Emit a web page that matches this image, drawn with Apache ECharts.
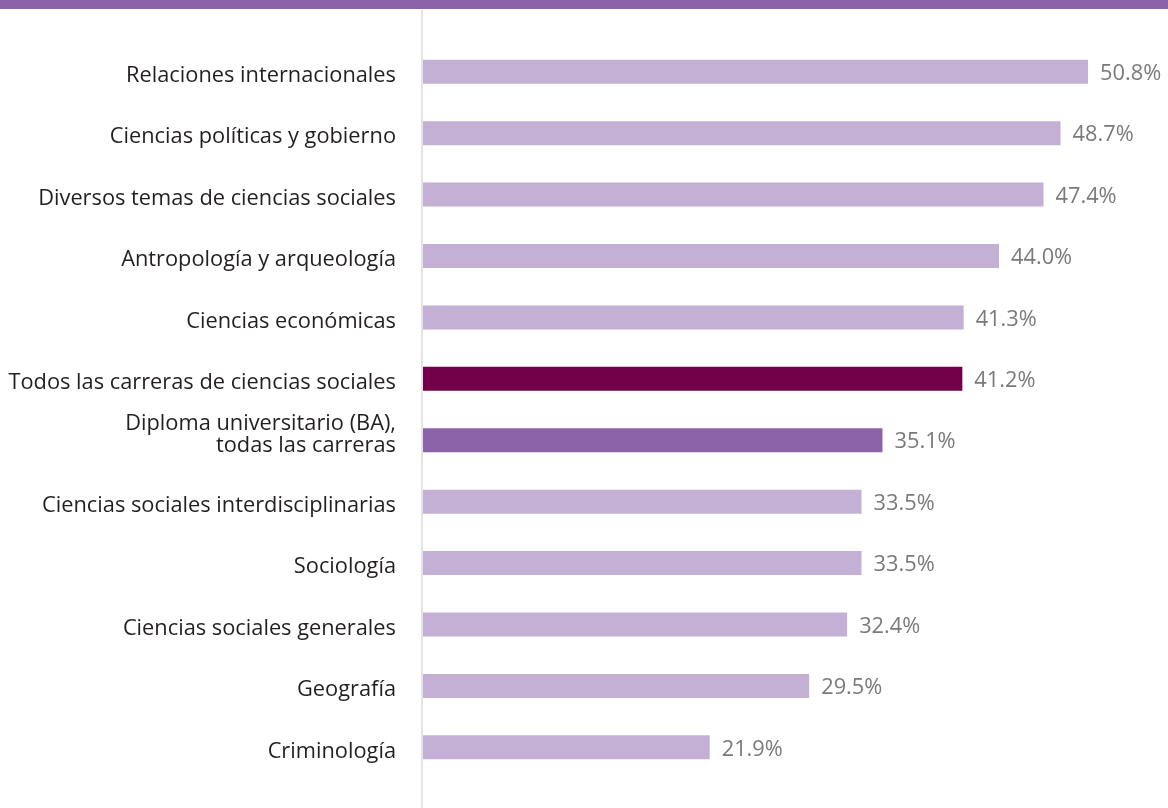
<!DOCTYPE html>
<html><head><meta charset="utf-8">
<script src="https://cdn.jsdelivr.net/npm/echarts@6/dist/echarts.min.js"></script>
<style>html,body{margin:0;padding:0;background:#fff}#c{width:1168px;height:808px}</style>
</head><body><div id="c"></div>
<script>
const categories = [
  "Relaciones internacionales",
  "Ciencias políticas y gobierno",
  "Diversos temas de ciencias sociales",
  "Antropología y arqueología",
  "Ciencias económicas",
  "Todos las carreras de ciencias sociales",
  "Diploma universitario (BA),\ntodas las carreras",
  "Ciencias sociales interdisciplinarias",
  "Sociología",
  "Ciencias sociales generales",
  "Geografía",
  "Criminología"
];
const values = [50.8, 48.7, 47.4, 44.0, 41.3, 41.2, 35.1, 33.5, 33.5, 32.4, 29.5, 21.9];

const colorFor = function (name) {
  if (name.indexOf("Todos las carreras") === 0) return "#710049";
  if (name.indexOf("Diploma") === 0) return "#8b63a8";
  return "#c5b0d5";
};

const txt = {color: '#231f20', fontFamily: 'Open Sans', fontSize: 21.8};
const chart = echarts.init(document.getElementById('c'), null, {renderer: 'canvas'});
chart.setOption({
  animation: false,
  backgroundColor: '#fff',
  grid: {left: 423, width: 720, top: 41, height: 737, containLabel: false},
  xAxis: {type: 'value', min: 0, max: 55, show: false},
  yAxis: {
    type: 'category', data: categories, inverse: true,
    axisLine: {show: false}, axisTick: {show: false},
    axisLabel: {color: '#231f20', fontFamily: 'Open Sans', fontSize: 21.8, margin: 27, align: 'right',
      formatter: function (v) {
        const parts = v.split('\n');
        if (parts.length === 1) return '{a|' + v + '}';
        return '{b|' + parts[0] + '}\n{b|' + parts[1] + '}\n{d| }';
      },
      rich: {
        a: Object.assign({lineHeight: 24, padding: [8, 0, 0, 0]}, txt),
        b: Object.assign({lineHeight: 22}, txt),
        d: {fontSize: 1, lineHeight: 10}
      }
    }
  },
  series: [{
    type: 'bar', barWidth: 24,
    data: values.map(function (v, i) { return {value: v, itemStyle: {color: colorFor(categories[i])}}; }),
    label: {show: true, position: 'right', distance: 12,
      formatter: function (p) { return '{v|' + p.value.toFixed(1) + '%}'; },
      rich: {v: {color: '#7a7a7a', fontFamily: 'Open Sans', fontSize: 21.8, padding: [4, 0, 0, 0]}}
    }
  }],
  graphic: [
    {type: 'rect', shape: {x: 0, y: 0, width: 1168, height: 9}, style: {fill: '#8b63a8'}, silent: true},
    {type: 'line', shape: {x1: 422, y1: 10, x2: 422, y2: 808}, style: {stroke: '#e3e3e3', lineWidth: 2}, silent: true}
  ]
});
</script></body></html>
